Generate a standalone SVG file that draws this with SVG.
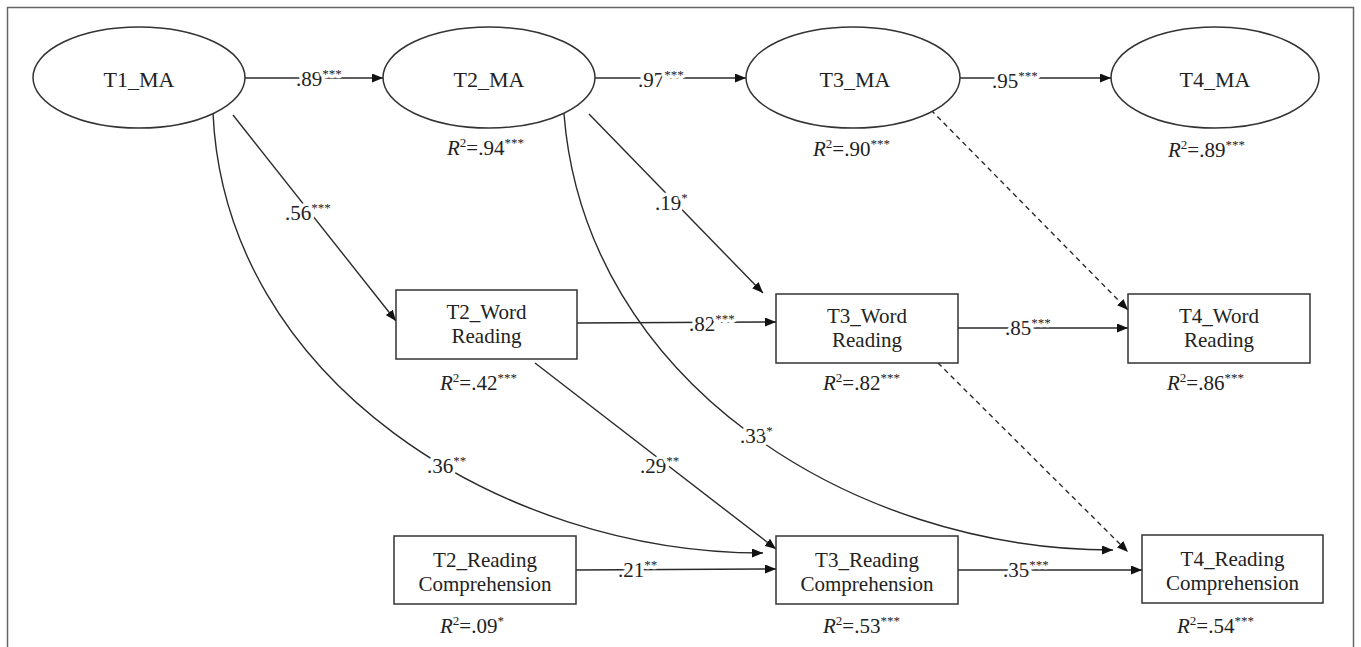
<svg xmlns="http://www.w3.org/2000/svg" width="1361" height="647" viewBox="0 0 1361 647" font-family="'Liberation Serif', 'Times New Roman', 'DejaVu Serif', serif">
<style>
.node{fill:#fff;stroke:#333;stroke-width:1.5}
.lbl{font-family:'Liberation Serif','Times New Roman','DejaVu Serif',serif;font-size:21px;fill:#222}
.big{font-size:22px}
.coef{font-family:'Liberation Serif','Times New Roman','DejaVu Serif',serif;font-size:21px;fill:#222;stroke:#fff;stroke-width:7;paint-order:stroke;stroke-linejoin:round}
.edge{fill:none;stroke:#2a2a2a;stroke-width:1.4}
.dash{stroke-dasharray:5 4}
.sup{font-size:13px}
</style>
<defs>
<marker id="ah" markerUnits="userSpaceOnUse" markerWidth="12" markerHeight="9" refX="11" refY="4.5" orient="auto">
<path d="M0,0 L11,4.5 L0,9 z" fill="#111"/>
</marker>
</defs>
<rect x="7.5" y="7.5" width="1346" height="670" fill="#fff" stroke="#666" stroke-width="1.5"/>

<g id="connectors">
<line class="edge" x1="245" y1="78" x2="383" y2="78" marker-end="url(#ah)"/>
<line class="edge" x1="595" y1="78" x2="746" y2="78" marker-end="url(#ah)"/>
<line class="edge" x1="960" y1="78" x2="1111" y2="78" marker-end="url(#ah)"/>
<line class="edge" x1="233" y1="115" x2="396" y2="321" marker-end="url(#ah)"/>
<line class="edge" x1="589" y1="114" x2="763" y2="293" marker-end="url(#ah)"/>
<path class="edge" d="M213,113 C225,380 500,553 763,553" marker-end="url(#ah)"/>
<path class="edge" d="M564,114 C585,380 850,550 1113,550" marker-end="url(#ah)"/>
<line class="edge dash" x1="931" y1="110" x2="1128" y2="310" marker-end="url(#ah)"/>
<line class="edge" x1="577" y1="323" x2="776" y2="322" marker-end="url(#ah)"/>
<line class="edge" x1="958" y1="328" x2="1128" y2="328" marker-end="url(#ah)"/>
<line class="edge" x1="535" y1="363" x2="776" y2="549" marker-end="url(#ah)"/>
<line class="edge dash" x1="938" y1="363" x2="1128" y2="552" marker-end="url(#ah)"/>
<line class="edge" x1="576" y1="570" x2="776" y2="569" marker-end="url(#ah)"/>
<line class="edge" x1="958" y1="570" x2="1142" y2="570" marker-end="url(#ah)"/>
<text class="coef" x="296" y="86">.89<tspan class="sup" dy="-8">***</tspan></text>
<text class="coef" x="638" y="87">.97<tspan class="sup" dy="-8">***</tspan></text>
<text class="coef" x="992" y="88">.95<tspan class="sup" dy="-8">***</tspan></text>
<text class="coef" x="285" y="220">.56<tspan class="sup" dy="-8">***</tspan></text>
<text class="coef" x="655" y="210">.19<tspan class="sup" dy="-8">*</tspan></text>
<text class="coef" x="689" y="331">.82<tspan class="sup" dy="-8">***</tspan></text>
<text class="coef" x="1005" y="335">.85<tspan class="sup" dy="-8">***</tspan></text>
<text class="coef" x="740" y="443">.33<tspan class="sup" dy="-8">*</tspan></text>
<text class="coef" x="427" y="473">.36<tspan class="sup" dy="-8">**</tspan></text>
<text class="coef" x="640" y="473">.29<tspan class="sup" dy="-8">**</tspan></text>
<text class="coef" x="618" y="577">.21<tspan class="sup" dy="-8">**</tspan></text>
<text class="coef" x="1003" y="577">.35<tspan class="sup" dy="-8">***</tspan></text>
</g>

<g id="T1_MA">
<ellipse class="node" cx="139" cy="77.5" rx="106" ry="50.5"/>
<text class="lbl big" x="139" y="87" text-anchor="middle">T1_MA</text>
</g>
<g id="T2_MA">
<ellipse class="node" cx="489" cy="77.5" rx="106" ry="50.5"/>
<text class="lbl big" x="489" y="87" text-anchor="middle">T2_MA</text>
<text class="lbl" x="447" y="155"><tspan font-style="italic">R</tspan><tspan class="sup" dy="-8">2</tspan><tspan dy="8">=.94</tspan><tspan class="sup" dy="-8">***</tspan></text>
</g>
<g id="T3_MA">
<ellipse class="node" cx="853" cy="77.5" rx="107" ry="50.5"/>
<text class="lbl big" x="855" y="87" text-anchor="middle">T3_MA</text>
<text class="lbl" x="813" y="156"><tspan font-style="italic">R</tspan><tspan class="sup" dy="-8">2</tspan><tspan dy="8">=.90</tspan><tspan class="sup" dy="-8">***</tspan></text>
</g>
<g id="T4_MA">
<ellipse class="node" cx="1215" cy="77.5" rx="104" ry="50.5"/>
<text class="lbl big" x="1215" y="87" text-anchor="middle">T4_MA</text>
<text class="lbl" x="1168" y="157"><tspan font-style="italic">R</tspan><tspan class="sup" dy="-8">2</tspan><tspan dy="8">=.89</tspan><tspan class="sup" dy="-8">***</tspan></text>
</g>
<g id="T2_Word">
<rect class="node" x="396" y="290" width="181" height="69"/>
<text class="lbl" x="486.5" y="319" text-anchor="middle">T2_Word</text>
<text class="lbl" x="486.5" y="343" text-anchor="middle">Reading</text>
<text class="lbl" x="440" y="390"><tspan font-style="italic">R</tspan><tspan class="sup" dy="-8">2</tspan><tspan dy="8">=.42</tspan><tspan class="sup" dy="-8">***</tspan></text>
</g>
<g id="T3_Word">
<rect class="node" x="776" y="294" width="182" height="69"/>
<text class="lbl" x="867" y="323" text-anchor="middle">T3_Word</text>
<text class="lbl" x="867" y="347" text-anchor="middle">Reading</text>
<text class="lbl" x="823" y="390"><tspan font-style="italic">R</tspan><tspan class="sup" dy="-8">2</tspan><tspan dy="8">=.82</tspan><tspan class="sup" dy="-8">***</tspan></text>
</g>
<g id="T4_Word">
<rect class="node" x="1128" y="294" width="182" height="69"/>
<text class="lbl" x="1219" y="323" text-anchor="middle">T4_Word</text>
<text class="lbl" x="1219" y="347" text-anchor="middle">Reading</text>
<text class="lbl" x="1167" y="390"><tspan font-style="italic">R</tspan><tspan class="sup" dy="-8">2</tspan><tspan dy="8">=.86</tspan><tspan class="sup" dy="-8">***</tspan></text>
</g>
<g id="T2_RC">
<rect class="node" x="394" y="536" width="182" height="68"/>
<text class="lbl" x="485" y="567" text-anchor="middle">T2_Reading</text>
<text class="lbl" x="485" y="591" text-anchor="middle">Comprehension</text>
<text class="lbl" x="440" y="633"><tspan font-style="italic">R</tspan><tspan class="sup" dy="-8">2</tspan><tspan dy="8">=.09</tspan><tspan class="sup" dy="-8">*</tspan></text>
</g>
<g id="T3_RC">
<rect class="node" x="776" y="536" width="182" height="68"/>
<text class="lbl" x="867" y="567" text-anchor="middle">T3_Reading</text>
<text class="lbl" x="867" y="591" text-anchor="middle">Comprehension</text>
<text class="lbl" x="823" y="633"><tspan font-style="italic">R</tspan><tspan class="sup" dy="-8">2</tspan><tspan dy="8">=.53</tspan><tspan class="sup" dy="-8">***</tspan></text>
</g>
<g id="T4_RC">
<rect class="node" x="1142" y="535" width="181" height="68"/>
<text class="lbl" x="1232.5" y="566" text-anchor="middle">T4_Reading</text>
<text class="lbl" x="1232.5" y="590" text-anchor="middle">Comprehension</text>
<text class="lbl" x="1177" y="633"><tspan font-style="italic">R</tspan><tspan class="sup" dy="-8">2</tspan><tspan dy="8">=.54</tspan><tspan class="sup" dy="-8">***</tspan></text>
</g>
</svg>
